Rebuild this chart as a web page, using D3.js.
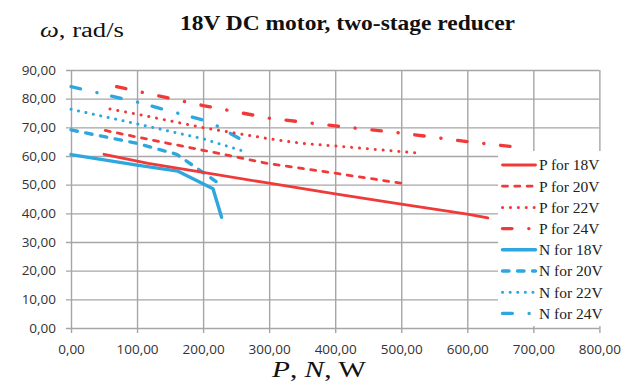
<!DOCTYPE html>
<html>
<head>
<meta charset="utf-8">
<script src="https://cdn.jsdelivr.net/npm/d3@7"></script>
<style>
  html, body { margin: 0; padding: 0; background: #fff; }
  svg { display: block; }
</style>
</head>
<body>
<svg id="chart" width="633" height="383"></svg>
<script>
// Output power P and N versus angular speed, points are [W, rad/s]
const pFor18V = [[50, 60.6], [117, 57.4], [200, 54.3], [300, 50.5], [400, 46.8], [500, 43.2], [600, 39.7], [631, 38.4]];
const pFor20V = [[52, 68.9], [100, 66.6], [200, 62.0], [300, 57.3], [400, 54.0], [500, 50.5]];
const pFor22V = [[59, 76.4], [100, 74.6], [200, 69.9], [300, 66.0], [350, 64.4], [400, 63.5], [522, 61.1]];
const pFor24V = [[69, 84.2], [100, 82.6], [200, 77.6], [300, 73.2], [400, 70.5], [500, 68.0], [600, 65.0], [675, 63.1]];
const nFor18V = [[0, 60.5], [100, 56.8], [162, 54.7], [215, 48.6], [228, 38.6]];
const nFor20V = [[0, 69.1], [100, 64.4], [160, 60.6], [224, 50.4]];
const nFor22V = [[0, 76.3], [100, 71.2], [200, 66.0], [268, 61.2]];
const nFor24V = [[0, 84.2], [100, 78.8], [210, 71.9], [270, 64.2]];

const seriesLabels = ["P for 18V", "P for 20V", "P for 22V", "P for 24V",
                      "N for 18V", "N for 20V", "N for 22V", "N for 24V"];
const xTickValues = [0, 100, 200, 300, 400, 500, 600, 700, 800];
const yTickValues = [0, 10, 20, 30, 40, 50, 60, 70, 80, 90];

const RED = "#f03a3a";
const BLUE = "#2ea6df";

// line styles: solid, dash, round dot, long dash + dot
const styles = [
  { data: pFor18V, color: RED,  width: 2.8, dash: null },
  { data: pFor20V, color: RED,  width: 2.8, dash: "5,7.3" },
  { data: pFor22V, color: RED,  width: 3.0, dash: "0.1,7.8" },
  { data: pFor24V, color: RED,  width: 3.4, dash: "9.5,16.8,0.1,16.8" },
  { data: nFor18V, color: BLUE, width: 3.4, dash: null },
  { data: nFor20V, color: BLUE, width: 3.4, dash: "6.5,8.5" },
  { data: nFor22V, color: BLUE, width: 3.0, dash: "0.1,7.5" },
  { data: nFor24V, color: BLUE, width: 3.4, dash: "9.8,16.8,0.1,15" }
];
styles.forEach((s, i) => s.label = seriesLabels[i]);

const svg = d3.select("#chart");
const plot = { left: 71, right: 599.4, top: 70, bottom: 328 };

const x = d3.scaleLinear().domain([0, 800]).range([plot.left, plot.right]);
const y = d3.scaleLinear().domain([0, 90]).range([plot.bottom, plot.top]);
const fmt = d => d3.format(".2f")(d).replace(".", ",");

const gridColor = "#a6a6a6";
const tickFont = "'Open Sans', 'DejaVu Sans', sans-serif";
const serif = "'Liberation Serif', 'Times New Roman', serif";

// horizontal grid + y labels
const yAxis = svg.append("g")
  .attr("transform", `translate(${plot.left},0)`)
  .call(d3.axisLeft(y).tickValues(yTickValues).tickFormat(fmt)
    .tickSize(-(plot.right - plot.left)).tickSizeOuter(0).tickPadding(15));
yAxis.select(".domain").remove();
yAxis.selectAll(".tick line").attr("x1", -5).attr("stroke", gridColor).attr("stroke-width", 1.4);
yAxis.selectAll(".tick text")
  .attr("font-family", tickFont).attr("font-size", 13.5).attr("fill", "#333");

// vertical grid + x labels
const xAxis = svg.append("g")
  .attr("transform", `translate(0,${plot.bottom})`)
  .call(d3.axisBottom(x).tickValues(xTickValues).tickFormat(fmt)
    .tickSize(-(plot.bottom - plot.top)).tickSizeOuter(0).tickPadding(16));
xAxis.select(".domain").remove();
xAxis.selectAll(".tick line").attr("y1", 5).attr("stroke", gridColor).attr("stroke-width", 1.4);
xAxis.selectAll(".tick text")
  .attr("font-family", tickFont).attr("font-size", 13.5).attr("fill", "#333");

// curves
const line = d3.line().x(d => x(d[0])).y(d => y(d[1]));
const drawOrder = [4, 5, 6, 7, 0, 1, 2, 3];
svg.append("g").selectAll("path")
  .data(drawOrder.map(i => styles[i]))
  .join("path")
  .attr("d", d => line(d.data))
  .attr("fill", "none")
  .attr("stroke", d => d.color)
  .attr("stroke-width", d => d.width)
  .attr("stroke-linecap", "round")
  .attr("stroke-linejoin", "round")
  .attr("stroke-dasharray", d => d.dash);

// legend
const legend = svg.append("g");
legend.append("rect")
  .attr("x", 498).attr("y", 151).attr("width", 110).attr("height", 175)
  .attr("fill", "#fff");
const item = legend.selectAll("g.item")
  .data(styles)
  .join("g")
  .attr("class", "item")
  .attr("transform", (d, i) => `translate(0,${165 + i * 21.2})`);
item.append("line")
  .attr("x1", 502.5).attr("x2", 535.5)
  .attr("stroke", d => d.color)
  .attr("stroke-width", d => d.width)
  .attr("stroke-linecap", "round")
  .attr("stroke-dasharray", d => d.dash);
item.append("text")
  .attr("x", 539).attr("dy", "0.35em")
  .attr("font-family", serif)
  .attr("font-size", 15.5)
  .attr("fill", "#222")
  .text(d => d.label);

// titles
svg.append("text")
  .attr("x", 180).attr("y", 30)
  .attr("font-family", serif)
  .attr("font-weight", "bold").attr("font-size", 21)
  .attr("textLength", 335).attr("lengthAdjust", "spacingAndGlyphs")
  .attr("fill", "#111")
  .text("18V DC motor, two-stage reducer");

const yTitle = svg.append("text")
  .attr("x", 40).attr("y", 37)
  .attr("font-family", serif)
  .attr("font-size", 20).attr("fill", "#111")
  .attr("textLength", 84).attr("lengthAdjust", "spacingAndGlyphs");
yTitle.append("tspan").attr("font-style", "italic").text("ω");
yTitle.append("tspan").text(", rad/s");

const xTitle = svg.append("text")
  .attr("x", 272).attr("y", 377)
  .attr("font-family", serif)
  .attr("font-size", 24).attr("fill", "#111")
  .attr("textLength", 94).attr("lengthAdjust", "spacingAndGlyphs");
xTitle.append("tspan").attr("font-style", "italic").text("P");
xTitle.append("tspan").text(", ");
xTitle.append("tspan").attr("font-style", "italic").text("N");
xTitle.append("tspan").text(", W");
</script>
</body>
</html>
